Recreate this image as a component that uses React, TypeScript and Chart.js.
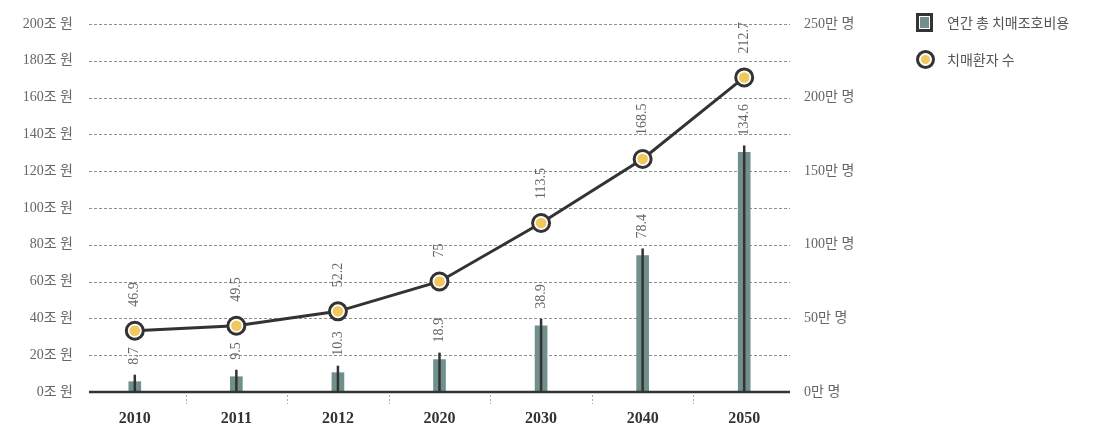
import React, { useEffect, useRef } from "react";
import { Chart, registerables } from "chart.js";

Chart.register(...registerables);

// ---- data ----
const categories = ["2010", "2011", "2012", "2020", "2030", "2040", "2050"];
// annual total dementia care cost (조 원) – bar heights as drawn
const costValues = [5.6, 8.3, 10.5, 17.6, 36.0, 74.2, 130.2];
const costLabels = ["8.7", "9.5", "10.3", "18.9", "38.9", "78.4", "134.6"];
// dementia patients (만 명) – point heights as drawn
const patientValues = [41.6, 45.0, 54.8, 75.1, 114.8, 158.3, 213.7];
const patientLabels = ["46.9", "49.5", "52.2", "75", "113.5", "168.5", "212.7"];
const legendLabels = ["연간 총 치매조호비용", "치매환자 수"];
const costAxis = { min: 0, max: 200, step: 20, unit: "조 원" };
const patientAxis = { min: 0, max: 250, step: 50, unit: "만 명" };

const BAR_COLOR = "#71908c";
const DARK = "#333333";
const YELLOW = "#f1c75e";
const GRAY_TEXT = "#666666";
const FONT = "'Liberation Serif', 'Noto Sans CJK KR', serif";

const decorPlugin = {
  id: "decor",
  beforeDatasetsDraw(chart: any) {
    const { ctx, chartArea: a, scales } = chart;
    const y = scales.y;
    const x = scales.x;
    const x0 = a.left + 5;
    const x1 = a.right - 5;
    ctx.save();
    ctx.strokeStyle = "#8f8f8f";
    ctx.lineWidth = 1;
    ctx.setLineDash([3, 2]);
    y.ticks.forEach((t: any) => {
      if (t.value === costAxis.min) return;
      const py = Math.round(y.getPixelForValue(t.value)) + 0.5;
      ctx.beginPath();
      ctx.moveTo(x0, py);
      ctx.lineTo(x1, py);
      ctx.stroke();
    });
    ctx.setLineDash([2, 2]);
    ctx.strokeStyle = "#aaaaaa";
    for (let i = 0; i < categories.length - 1; i++) {
      const px = Math.round((x.getPixelForValue(i) + x.getPixelForValue(i + 1)) / 2) + 0.5;
      ctx.beginPath();
      ctx.moveTo(px, a.bottom + 3);
      ctx.lineTo(px, a.bottom + 12);
      ctx.stroke();
    }
    ctx.restore();
  },
  afterDatasetsDraw(chart: any) {
    const { ctx, chartArea: a } = chart;
    ctx.save();
    // baseline
    ctx.strokeStyle = DARK;
    ctx.lineWidth = 2.5;
    ctx.beginPath();
    ctx.moveTo(a.left + 5, a.bottom);
    ctx.lineTo(a.right - 5, a.bottom);
    ctx.stroke();

    const barMeta = chart.getDatasetMeta(0);
    const lineMeta = chart.getDatasetMeta(1);
    ctx.font = `14px ${FONT}`;
    ctx.fillStyle = GRAY_TEXT;
    ctx.textAlign = "left";
    ctx.textBaseline = "middle";
    barMeta.data.forEach((bar: any, i: number) => {
      const top = bar.y - 7;
      ctx.strokeStyle = DARK;
      ctx.lineWidth = 2.5;
      ctx.beginPath();
      ctx.moveTo(bar.x, bar.base);
      ctx.lineTo(bar.x, top);
      ctx.stroke();
      ctx.save();
      ctx.translate(bar.x, top - 10);
      ctx.rotate(-Math.PI / 2);
      ctx.fillText(costLabels[i], 0, 0);
      ctx.restore();
    });
    lineMeta.data.forEach((pt: any, i: number) => {
      ctx.fillStyle = YELLOW;
      ctx.beginPath();
      ctx.arc(pt.x, pt.y, 5.3, 0, Math.PI * 2);
      ctx.fill();
      ctx.fillStyle = GRAY_TEXT;
      ctx.save();
      ctx.translate(pt.x, pt.y - 24);
      ctx.rotate(-Math.PI / 2);
      ctx.fillText(patientLabels[i], 0, 0);
      ctx.restore();
    });
    ctx.restore();
  },
};

export default function App() {
  const canvasRef = useRef<HTMLCanvasElement | null>(null);

  useEffect(() => {
    document.body.style.margin = "0";
    const canvas = canvasRef.current;
    if (!canvas) return;
    const chart = new Chart(canvas, {
      type: "bar",
      data: {
        labels: categories,
        datasets: [
          {
            type: "bar",
            label: legendLabels[0],
            data: costValues,
            backgroundColor: BAR_COLOR,
            barThickness: 12,
            yAxisID: "y",
            order: 1,
          } as any,
          {
            type: "line",
            label: legendLabels[1],
            data: patientValues,
            borderColor: DARK,
            borderWidth: 3,
            pointRadius: 8.5,
            pointBorderWidth: 3,
            pointBorderColor: DARK,
            pointBackgroundColor: "#ffffff",
            tension: 0,
            yAxisID: "y1",
            order: 0,
          } as any,
        ],
      },
      options: {
        animation: false,
        responsive: true,
        maintainAspectRatio: false,
        layout: { padding: { top: 24, left: 0, right: 0, bottom: 0 }, autoPadding: false } as any,
        plugins: { legend: { display: false }, tooltip: { enabled: false } },
        scales: {
          x: {
            type: "category",
            offset: true,
            grid: { display: false, drawTicks: false },
            border: { display: false },
            ticks: { color: DARK, font: { family: FONT, size: 16, weight: "bold" }, padding: 17 },
            afterFit(s: any) {
              s.height = 32;
            },
          },
          y: {
            position: "left",
            min: costAxis.min,
            max: costAxis.max,
            grid: { display: false, drawTicks: false },
            border: { display: false },
            ticks: {
              stepSize: costAxis.step,
              color: GRAY_TEXT,
              font: { family: FONT, size: 14 },
              padding: 11,
              callback: (v: any) => `${v}${costAxis.unit}`,
            },
            afterFit(s: any) {
              s.width = 84;
            },
          },
          y1: {
            position: "right",
            min: patientAxis.min,
            max: patientAxis.max,
            grid: { display: false, drawTicks: false },
            border: { display: false },
            ticks: {
              stepSize: patientAxis.step,
              color: GRAY_TEXT,
              font: { family: FONT, size: 14 },
              padding: 9,
              callback: (v: any) => `${v}${patientAxis.unit}`,
            },
            afterFit(s: any) {
              s.width = 310;
            },
          },
        },
      } as any,
      plugins: [decorPlugin],
    });
    return () => chart.destroy();
  }, []);

  const legendText: React.CSSProperties = {
    position: "absolute",
    left: 947,
    fontFamily: "'Noto Sans CJK KR', sans-serif",
    fontSize: 14,
    color: "#555",
    lineHeight: "20px",
    whiteSpace: "nowrap",
  };

  return (
    <div style={{ position: "relative", width: 1105, height: 424 }}>
      <canvas ref={canvasRef} />
      <div
        style={{
          position: "absolute",
          left: 916,
          top: 13,
          width: 17,
          height: 19,
          boxSizing: "border-box",
          border: `3px solid ${DARK}`,
          padding: 1,
          background: "#fff",
        }}
      >
        <div style={{ width: "100%", height: "100%", background: BAR_COLOR }} />
      </div>
      <div style={{ ...legendText, top: 12 }}>{legendLabels[0]}</div>
      <div
        style={{
          position: "absolute",
          left: 916,
          top: 50,
          width: 19,
          height: 19,
          boxSizing: "border-box",
          border: `3px solid ${DARK}`,
          borderRadius: "50%",
          background: "#fff",
          display: "flex",
          alignItems: "center",
          justifyContent: "center",
        }}
      >
        <div style={{ width: 9, height: 9, borderRadius: "50%", background: YELLOW }} />
      </div>
      <div style={{ ...legendText, top: 49 }}>{legendLabels[1]}</div>
    </div>
  );
}
